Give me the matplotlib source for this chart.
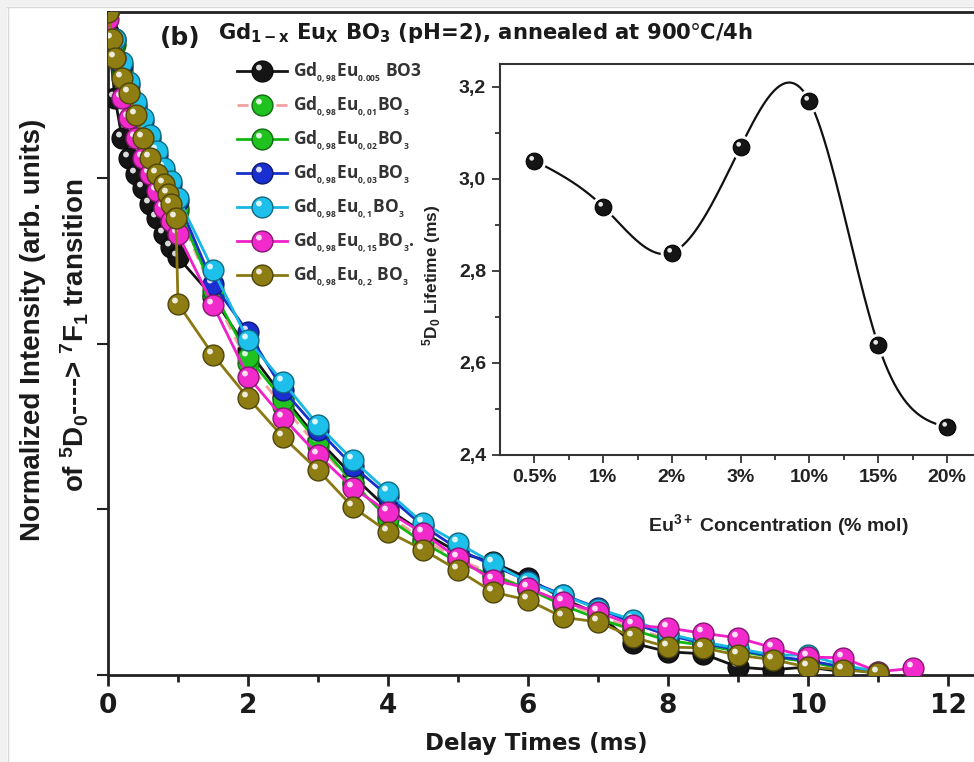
import numpy as np
import matplotlib
matplotlib.use('Agg')
import matplotlib.pyplot as plt
from matplotlib.path import Path
from matplotlib.lines import Line2D
from matplotlib.legend_handler import HandlerTuple
import matplotlib.colors as mcolors
import matplotlib.patches as mpatches

plt.rcParams['mathtext.fontset'] = 'custom'
plt.rcParams['mathtext.rm'] = 'Open Sans'
plt.rcParams['mathtext.it'] = 'Open Sans'
plt.rcParams['mathtext.bf'] = 'Open Sans:bold'

# ---------------- data: decay curves ----------------
t_std = [0.0, 0.1, 0.2, 0.3, 0.4, 0.5, 0.6, 0.7, 0.8, 0.9, 1.0,
         1.5, 2.0, 2.5, 3.0, 3.5, 4.0, 4.5, 5.0, 5.5, 6.0, 6.5, 7.0,
         7.5, 8.0, 8.5, 9.0, 9.5, 10.0, 10.5, 11.0]

t_black = t_std[:-1]
i_black = [0.97, 0.87, 0.81, 0.78, 0.755, 0.735, 0.71, 0.69, 0.665, 0.645, 0.63,
           0.57, 0.49, 0.42, 0.355, 0.30, 0.25, 0.215, 0.185, 0.170, 0.146, 0.115, 0.092,
           0.048, 0.035, 0.032, 0.012, 0.008, 0.012, 0.005]

t_green1 = t_std
i_green1 = [1.0, 0.95, 0.91, 0.875, 0.85, 0.82, 0.795, 0.77, 0.745, 0.722, 0.70,
            0.575, 0.47, 0.405, 0.345, 0.29, 0.24, 0.205, 0.175, 0.152, 0.13, 0.11, 0.09,
            0.07, 0.055, 0.046, 0.036, 0.028, 0.02, 0.01, 0.003]

t_green2 = t_std
i_green2 = [1.0, 0.955, 0.915, 0.88, 0.855, 0.825, 0.80, 0.775, 0.75, 0.728, 0.705,
            0.58, 0.48, 0.415, 0.351, 0.29, 0.236, 0.20, 0.17, 0.15, 0.13, 0.105, 0.085,
            0.068, 0.052, 0.045, 0.036, 0.027, 0.02, 0.01, 0.002]

t_blue = t_std
i_blue = [1.0, 0.96, 0.92, 0.89, 0.86, 0.835, 0.81, 0.785, 0.76, 0.74, 0.715,
          0.59, 0.517, 0.43, 0.37, 0.315, 0.27, 0.225, 0.19, 0.165, 0.142, 0.121, 0.101,
          0.078, 0.06, 0.048, 0.038, 0.028, 0.022, 0.012, 0.003]

t_cyan = t_std
i_cyan = [1.0, 0.96, 0.925, 0.895, 0.865, 0.84, 0.815, 0.79, 0.765, 0.745, 0.72,
          0.611, 0.505, 0.442, 0.377, 0.324, 0.276, 0.229, 0.199, 0.169, 0.14, 0.12, 0.10,
          0.083, 0.062, 0.05, 0.04, 0.03, 0.030, 0.015, 0.005]

t_magenta = t_std + [11.5]
i_magenta = [0.99, 0.93, 0.87, 0.84, 0.81, 0.78, 0.755, 0.73, 0.705, 0.685, 0.665,
             0.558, 0.45, 0.388, 0.332, 0.282, 0.246, 0.214, 0.176, 0.143, 0.131, 0.110, 0.095,
             0.075, 0.071, 0.063, 0.056, 0.041, 0.027, 0.026, 0.005, 0.010]

t_olive = [0.0, 0.05, 0.1, 0.2, 0.3, 0.4, 0.5, 0.6, 0.7, 0.8, 0.85, 0.9, 0.97, 1.0,
           1.5, 2.0, 2.5, 3.0, 3.5, 4.0, 4.5, 5.0, 5.5, 6.0, 6.5, 7.0,
           7.5, 8.0, 8.5, 9.0, 9.5, 10.0, 10.5, 11.0]
i_olive = [1.0, 0.96, 0.93, 0.90, 0.878, 0.845, 0.81, 0.78, 0.755, 0.74, 0.725, 0.71, 0.69, 0.56,
           0.483, 0.418, 0.359, 0.309, 0.253, 0.216, 0.189, 0.158, 0.125, 0.113, 0.087, 0.080,
           0.057, 0.042, 0.041, 0.030, 0.023, 0.012, 0.008, 0.003]

labels = [r'Gd$\mathregular{_{_{0,98}}}$Eu$\mathregular{_{_{0.005}}}$ BO3',
          r'Gd$\mathregular{_{_{0,98}}}$Eu$\mathregular{_{_{0,01}}}$BO$\mathregular{_{_{3}}}$',
          r'Gd$\mathregular{_{_{0,98}}}$Eu$\mathregular{_{_{0,02}}}$BO$\mathregular{_{_{3}}}$',
          r'Gd$\mathregular{_{_{0,98}}}$Eu$\mathregular{_{_{0,03}}}$BO$\mathregular{_{_{3}}}$',
          r'Gd$\mathregular{_{_{0,98}}}$Eu$\mathregular{_{_{0,1}}}$BO$\mathregular{_{_{3}}}$',
          r'Gd$\mathregular{_{_{0,98}}}$Eu$\mathregular{_{_{0,15}}}$BO$\mathregular{_{_{3}}}$.',
          r'Gd$\mathregular{_{_{0,98}}}$Eu$\mathregular{_{_{0,2}}}$ BO$\mathregular{_{_{3}}}$']

# ---------------- data: inset ----------------
conc_labels = ['0.5%', '1%', '2%', '3%', '10%', '15%', '20%']
lifetime = [3.04, 2.94, 2.84, 3.07, 3.17, 2.64, 2.46]

# ---------------- styles ----------------
series = [
    (t_black, i_black, '#151515', '#151515', '-'),
    (t_green1, i_green1, '#f2a0a0', '#1fc21f', (0, (4, 3))),
    (t_green2, i_green2, '#12b812', '#1fc21f', '-'),
    (t_blue, i_blue, '#1630c8', '#1a2fd0', '-'),
    (t_cyan, i_cyan, '#18b8e2', '#1cc0ea', '-'),
    (t_magenta, i_magenta, '#f020c8', '#f22acb', '-'),
    (t_olive, i_olive, '#8a7812', '#8e7d12', '-'),
]

# highlight marker: small circle offset to upper-left (invisible MOVETOs fix scale)
circ = Path.circle(center=(-0.17, 0.19), radius=0.14)
verts = np.vstack([[[-0.5, -0.5]], [[0.5, 0.5]], circ.vertices])
codes = np.concatenate([[Path.MOVETO, Path.MOVETO], circ.codes])
hl_marker = Path(verts, codes)


def darker(c, f=0.55):
    r, g, b = mcolors.to_rgb(c)
    return (r * f, g * f, b * f)


W, H = 974, 762
fig = plt.figure(figsize=(W / 100, H / 100), dpi=100)
fig.patch.set_facecolor('white')

# screenshot frame
fig.patches.append(mpatches.Rectangle((0, 1 - 6 / H), 1, 6 / H, transform=fig.transFigure,
                                      facecolor='#f1f1f1', edgecolor='none', zorder=0))
fig.patches.append(mpatches.Rectangle((0, 0), 7 / W, 1, transform=fig.transFigure,
                                      facecolor='#f1f1f1', edgecolor='none', zorder=0))
fig.lines.append(Line2D([7 / W, 1], [1 - 6.5 / H, 1 - 6.5 / H], transform=fig.transFigure,
                        color='#d8d8d8', lw=1))
fig.lines.append(Line2D([7.5 / W, 7.5 / W], [0, 1 - 6.5 / H], transform=fig.transFigure,
                        color='#d8d8d8', lw=1))

ax = fig.add_axes([108 / W, 87 / H, 910 / W, 663 / H])
ax.set_xlim(0, 13)
ax.set_ylim(0, 1.0)

MS = 15
handles = []
for k, (tx, iy, lc, mc, ls) in enumerate(series):
    ln, = ax.plot(tx, iy, color=lc, ls=ls, lw=2, marker='o', ms=MS, mfc=mc,
                  mec=darker(mc), mew=1.0, zorder=3 + k, clip_on=True)
    hl, = ax.plot(tx, iy, ls='none', marker=hl_marker, ms=MS, mfc='white', mec='none',
                  alpha=0.85, zorder=3 + k, clip_on=True)
    handles.append((ln, hl))

ax.spines['right'].set_visible(False)
for s in ['left', 'bottom', 'top']:
    ax.spines[s].set_linewidth(2)
    ax.spines[s].set_color('#222222')

ax.set_xticks([0, 2, 4, 6, 8, 10, 12])
ax.set_xticks([1, 3, 5, 7, 9, 11], minor=True)
ax.set_yticks([0, 0.25, 0.5, 0.75])
ax.set_yticklabels([])
ax.tick_params(axis='x', which='major', direction='out', length=8, width=2, color='#222222', pad=5)
ax.tick_params(axis='x', which='minor', direction='out', length=5, width=2, color='#222222')
ax.tick_params(axis='y', which='major', direction='out', length=8, width=1.5, color='#222222')
for lab in ax.get_xticklabels():
    lab.set_fontfamily('DejaVu Sans')
    lab.set_fontweight('bold')
    lab.set_fontsize(19)
    lab.set_color('#1a1a1a')

ax.set_xlabel('Delay Times (ms)', fontfamily='DejaVu Sans', fontweight='bold', fontsize=16.5,
              color='#1a1a1a')
ax.xaxis.set_label_coords((536 - 108) / 910, -57 / 663)

fig.text(33 / W, 1 - 330 / H, 'Normalized Intensity (arb. units)', rotation=90,
         ha='center', va='center', fontfamily='Liberation Sans', fontweight='bold',
         fontsize=20, color='#1a1a1a')
fig.text(75 / W, 1 - 335 / H, r'of $\mathregular{^5}$D$\mathregular{_0}$----> $\mathregular{^7}$F$\mathregular{_1}$ transition',
         rotation=90, ha='center', va='center', fontfamily='Liberation Sans',
         fontweight='bold', fontsize=20, color='#1a1a1a')

fig.text(160 / W, 1 - 38 / H, '(b)', ha='left', va='center', fontfamily='DejaVu Sans',
         fontweight='bold', fontsize=18, color='#1a1a1a')
fig.text(218 / W, 1 - 33 / H,
         r'Gd$\mathregular{_{1-x}}$ Eu$\mathregular{_{X}}$ BO$\mathregular{_{3}}$ (pH=2), annealed at 900$\degree$C/4h',
         ha='left', va='center', fontfamily='DejaVu Sans', fontweight='bold',
         fontsize=15.2, color='#1a1a1a')

leg = ax.legend(handles, labels, handler_map={tuple: HandlerTuple(ndivide=1, pad=0)},
                loc='upper left', bbox_to_anchor=(237 / W, 1 - 61 / H),
                bbox_transform=fig.transFigure, frameon=False, handlelength=2.9,
                handletextpad=0.3, labelspacing=0.57, borderpad=0, borderaxespad=0,
                prop={'family': 'Open Sans', 'weight': 'bold', 'size': 12.5})
for txt in leg.get_texts():
    txt.set_color('#333333')

# ---------------- inset ----------------
def natural_spline(xk, yk, xs):
    xk = np.asarray(xk, float)
    yk = np.asarray(yk, float)
    n = len(xk)
    h = np.diff(xk)
    A = np.zeros((n, n))
    b = np.zeros(n)
    A[0, 0] = 1
    A[-1, -1] = 1
    for i in range(1, n - 1):
        A[i, i - 1] = h[i - 1]
        A[i, i] = 2 * (h[i - 1] + h[i])
        A[i, i + 1] = h[i]
        b[i] = 3 * ((yk[i + 1] - yk[i]) / h[i] - (yk[i] - yk[i - 1]) / h[i - 1])
    c = np.linalg.solve(A, b)
    out = np.empty_like(xs)
    for j, x in enumerate(xs):
        i = min(max(np.searchsorted(xk, x) - 1, 0), n - 2)
        dx = x - xk[i]
        bi = (yk[i + 1] - yk[i]) / h[i] - h[i] * (2 * c[i] + c[i + 1]) / 3
        di = (c[i + 1] - c[i]) / (3 * h[i])
        out[j] = yk[i] + bi * dx + c[i] * dx ** 2 + di * dx ** 3
    return out


ax2 = fig.add_axes([500 / W, (H - 455) / H, 550 / W, 391 / H])
pos = np.arange(len(conc_labels))
xs = np.linspace(pos[0], pos[-1], 400)
ax2.plot(xs, natural_spline(pos, lifetime, xs), color='#111111', lw=1.6, zorder=2)
ax2.plot(pos, lifetime, ls='none', marker='o', ms=17, mfc='white', mec='none', zorder=3)
ax2.plot(pos, lifetime, ls='none', marker='o', ms=12, mfc='#151515', mec='#000000', mew=0.8, zorder=4)
ax2.plot(pos, lifetime, ls='none', marker=hl_marker, ms=12, mfc='white', mec='none', alpha=0.9, zorder=5)
ax2.set_xlim(-0.5, 7.5)
ax2.set_ylim(2.4, 3.25)
ax2.set_xticks(pos)
ax2.set_xticklabels(conc_labels)
ax2.set_xticks(pos + 0.5, minor=True)
ax2.set_yticks([2.4, 2.6, 2.8, 3.0, 3.2])
ax2.set_yticklabels(['2,4', '2,6', '2,8', '3,0', '3,2'])
ax2.set_yticks([2.5, 2.7, 2.9, 3.1], minor=True)
ax2.spines['right'].set_visible(False)
for s in ['left', 'bottom', 'top']:
    ax2.spines[s].set_linewidth(1.5)
    ax2.spines[s].set_color('#333333')
ax2.tick_params(which='major', direction='out', length=6, width=1.3, color='#333333', pad=4)
ax2.tick_params(which='minor', direction='out', length=3.5, width=1.3, color='#333333')
for lab in ax2.get_xticklabels() + ax2.get_yticklabels():
    lab.set_fontfamily('Liberation Sans')
    lab.set_fontweight('bold')
    lab.set_fontsize(14)
    lab.set_color('#222222')
ax2.set_ylabel(r'$\mathregular{^5}$D$\mathregular{_0}$ Lifetime (ms)', fontfamily='Liberation Sans',
               fontweight='bold', fontsize=12.5, color='#222222')
ax2.yaxis.set_label_coords(-(500 - 443) / 550, (455 - 275) / 391)
ax2.set_xlabel(r'Eu$\mathregular{^{3+}}$ Concentration (% mol)', fontfamily='Liberation Sans',
               fontweight='bold', fontsize=14, color='#222222')
ax2.xaxis.set_label_coords((778 - 500) / 550, -(512 - 455) / 391)

fig.savefig('out.png', dpi=100, facecolor='white')
